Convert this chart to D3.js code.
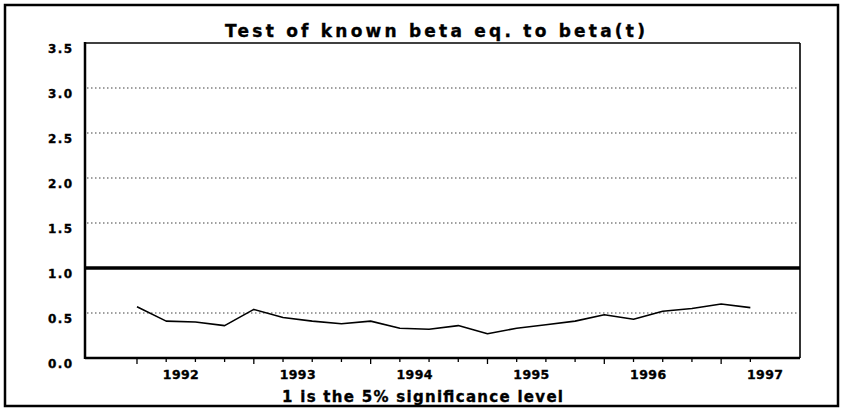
<!DOCTYPE html>
<html>
<head>
<meta charset="utf-8">
<script src="https://cdn.jsdelivr.net/npm/d3@7"></script>
<style>
  body { margin: 0; background: #fff; }
  text { font-family: "DejaVu Sans", "Liberation Sans", Arial, sans-serif; font-weight: bold; fill: #000;
         stroke: #000; stroke-width: 0.35; }
</style>
</head>
<body>
<div id="chart"></div>
<script>
// quarterly observations, 1992Q1 .. 1997Q2
const quarters = ["1992Q1","1992Q2","1992Q3","1992Q4","1993Q1","1993Q2","1993Q3","1993Q4",
  "1994Q1","1994Q2","1994Q3","1994Q4","1995Q1","1995Q2","1995Q3","1995Q4",
  "1996Q1","1996Q2","1996Q3","1996Q4","1997Q1","1997Q2"];
const testStat = [0.57,0.41,0.40,0.36,0.54,0.45,0.41,0.38,0.41,0.33,0.32,0.36,
  0.27,0.33,0.37,0.41,0.48,0.43,0.52,0.55,0.60,0.56];
const yearLabels = ["1992","1993","1994","1995","1996","1997"];
const yTicks = [0,0.5,1.0,1.5,2.0,2.5,3.0,3.5];
const sigLevel = 1;

const width = 842, height = 409;
const plot = {left: 85, right: 800, top: 43, bottom: 358};

const svg = d3.select("#chart").append("svg")
  .attr("width", width).attr("height", height);

// outer frame
svg.append("rect")
  .attr("x", 5).attr("y", 5).attr("width", 833).attr("height", 401)
  .attr("fill", "none").attr("stroke", "#000").attr("stroke-width", 2.5);

const x = d3.scaleLinear().domain([-1.78, 22.7]).range([plot.left, plot.right]);
const y = d3.scaleLinear().domain([0, 3.5]).range([plot.bottom, plot.top]);

// dotted gridlines
svg.append("g")
  .selectAll("line")
  .data(yTicks.filter(d => d > 0 && d < 3.5 && d !== sigLevel))
  .join("line")
  .attr("x1", plot.left + 2).attr("x2", plot.right - 2)
  .attr("y1", d => y(d)).attr("y2", d => y(d))
  .attr("stroke", "#000").attr("stroke-width", 1)
  .attr("stroke-dasharray", "1.5,2.5").attr("opacity", 0.75);

// y labels
svg.append("g")
  .selectAll("text")
  .data(yTicks)
  .join("text")
  .attr("x", 72).attr("y", d => y(d) + 10)
  .attr("text-anchor", "end")
  .attr("font-size", 12)
  .attr("textLength", 24).attr("lengthAdjust", "spacing")
  .text(d => d.toFixed(1));

// plot frame: top & right thin, left & bottom heavy
svg.append("line").attr("x1", plot.left).attr("x2", plot.right)
  .attr("y1", plot.top).attr("y2", plot.top)
  .attr("stroke", "#000").attr("stroke-width", 1.6);
svg.append("line").attr("x1", plot.right).attr("x2", plot.right)
  .attr("y1", plot.top).attr("y2", plot.bottom)
  .attr("stroke", "#000").attr("stroke-width", 1.6);
svg.append("line").attr("x1", plot.left).attr("x2", plot.left)
  .attr("y1", plot.top - 1).attr("y2", plot.bottom + 1)
  .attr("stroke", "#000").attr("stroke-width", 2.5);
svg.append("line").attr("x1", plot.left).attr("x2", plot.right)
  .attr("y1", plot.bottom).attr("y2", plot.bottom)
  .attr("stroke", "#000").attr("stroke-width", 2.5);

// significance level line
svg.append("line")
  .attr("x1", plot.left).attr("x2", plot.right)
  .attr("y1", y(sigLevel)).attr("y2", y(sigLevel))
  .attr("stroke", "#000").attr("stroke-width", 3.5);

// quarter ticks
svg.append("g")
  .selectAll("line")
  .data(quarters)
  .join("line")
  .attr("x1", (d, i) => x(i)).attr("x2", (d, i) => x(i))
  .attr("y1", plot.bottom)
  .attr("y2", (d, i) => plot.bottom + (i % 4 === 0 ? 6 : 4))
  .attr("stroke", "#000").attr("stroke-width", 1.3);

// year labels centred on each year's four quarters
svg.append("g")
  .selectAll("text")
  .data(yearLabels)
  .join("text")
  .attr("x", (d, i) => x(i * 4 + 1.5))
  .attr("y", 378.5)
  .attr("text-anchor", "middle")
  .attr("font-size", 12.5)
  .attr("textLength", 36).attr("lengthAdjust", "spacing")
  .text(d => d);

// series line
const line = d3.line()
  .x((d, i) => x(i))
  .y(d => y(d));
svg.append("path")
  .datum(testStat)
  .attr("d", line)
  .attr("fill", "none")
  .attr("stroke", "#000")
  .attr("stroke-width", 1.6)
  .attr("stroke-linejoin", "round");

// title
svg.append("text")
  .attr("x", 225).attr("y", 37)
  .attr("font-size", 17)
  .attr("textLength", 420).attr("lengthAdjust", "spacing")
  .text("Test of known beta eq. to beta(t)");

// caption
svg.append("text")
  .attr("x", 282).attr("y", 401.5)
  .attr("font-size", 15)
  .attr("textLength", 281).attr("lengthAdjust", "spacing")
  .text("1 is the 5% significance level");
</script>
</body>
</html>
